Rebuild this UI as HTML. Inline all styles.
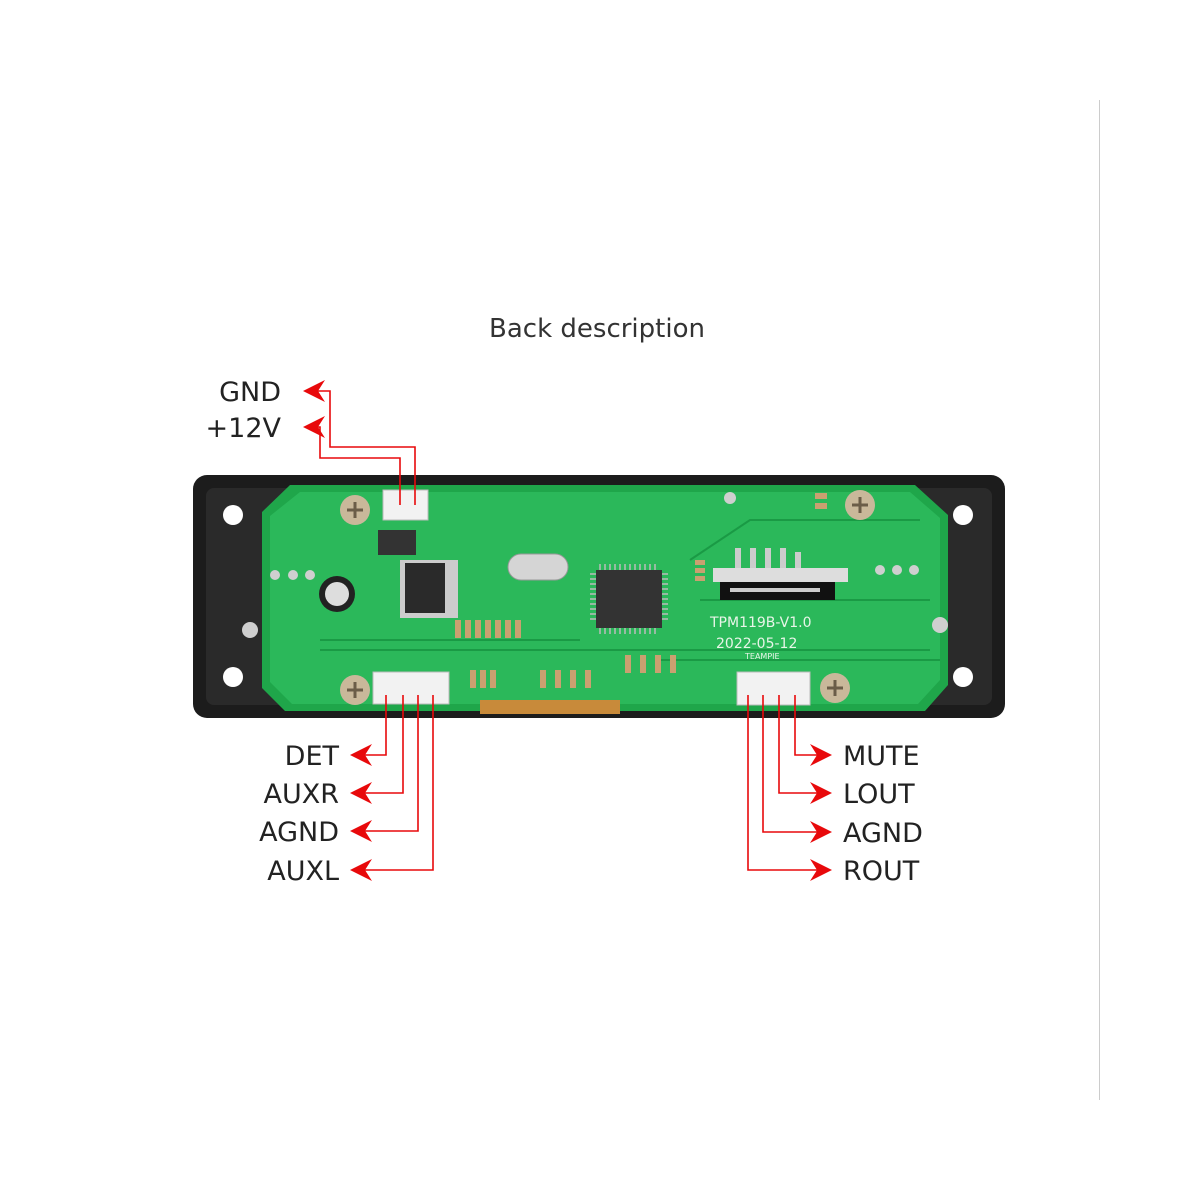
<!DOCTYPE html>
<html><head><meta charset="utf-8"><style>
html,body{margin:0;padding:0;background:#fff;width:1200px;height:1200px;overflow:hidden}
svg{display:block}
text{font-family:"DejaVu Sans","Liberation Sans",sans-serif}
</style></head><body>
<svg width="1200" height="1200" viewBox="0 0 1200 1200">
<defs>
<marker id="a" viewBox="0 0 22 22" refX="20" refY="11" markerWidth="22" markerHeight="22" markerUnits="userSpaceOnUse" orient="auto">
<path d="M22,11 L0,0 L7,11 L0,22 Z" fill="#e8090b"/></marker>
</defs>
<line x1="1099.5" y1="100" x2="1099.5" y2="1100" stroke="#ccc" stroke-width="1"/>
<text x="597" y="337" font-size="26" fill="#333" text-anchor="middle" font-family="Liberation Sans">Back description</text>

<rect x="193" y="475" width="812" height="243" rx="14" fill="#1c1c1c"/>
<rect x="206" y="488" width="786" height="217" rx="8" fill="#2a2a2a"/>
<g fill="#fff"><circle cx="233" cy="515" r="10"/><circle cx="233" cy="677" r="10"/><circle cx="963" cy="515" r="10"/><circle cx="963" cy="677" r="10"/></g>
<path d="M290,485 L915,485 L948,515 L948,685 L925,711 L285,711 L262,688 L262,512 Z" fill="#1fa64a"/>
<path d="M300,492 L910,492 L940,518 L940,680 L918,704 L292,704 L270,682 L270,516 Z" fill="#2bb85a"/>
<rect x="480" y="700" width="140" height="14" fill="#c88a3a"/>
<g stroke="#1a9a45" stroke-width="2" fill="none">
<path d="M320,650 L930,650"/><path d="M320,640 L580,640"/><path d="M690,560 L750,520 L920,520"/><path d="M700,600 L930,600"/><path d="M660,660 L940,660"/>
</g>
<rect x="596" y="570" width="66" height="58" fill="#333"/>
<g stroke="#bbb" stroke-width="1.5">
<path d="M600,564 v6 M605,564 v6 M610,564 v6 M615,564 v6 M620,564 v6 M625,564 v6 M630,564 v6 M635,564 v6 M640,564 v6 M645,564 v6 M650,564 v6 M655,564 v6"/>
<path d="M600,628 v6 M605,628 v6 M610,628 v6 M615,628 v6 M620,628 v6 M625,628 v6 M630,628 v6 M635,628 v6 M640,628 v6 M645,628 v6 M650,628 v6 M655,628 v6"/>
<path d="M590,574 h6 M590,579 h6 M590,584 h6 M590,589 h6 M590,594 h6 M590,599 h6 M590,604 h6 M590,609 h6 M590,614 h6 M590,619 h6"/>
<path d="M662,574 h6 M662,579 h6 M662,584 h6 M662,589 h6 M662,594 h6 M662,599 h6 M662,604 h6 M662,609 h6 M662,614 h6 M662,619 h6"/>
</g>
<rect x="508" y="554" width="60" height="26" rx="13" fill="#d5d5d5" stroke="#999"/>
<rect x="400" y="560" width="58" height="58" fill="#ccc"/>
<rect x="405" y="563" width="40" height="50" fill="#2a2a2a"/>
<rect x="378" y="530" width="38" height="25" fill="#333"/>
<circle cx="337" cy="594" r="18" fill="#222"/><circle cx="337" cy="594" r="12" fill="#ddd"/>
<rect x="713" y="568" width="135" height="14" fill="#ddd"/>
<rect x="720" y="582" width="115" height="18" fill="#111"/>
<rect x="730" y="588" width="90" height="4" fill="#ccc"/>
<g fill="#ccc"><rect x="735" y="548" width="6" height="20"/><rect x="750" y="548" width="6" height="20"/><rect x="765" y="548" width="6" height="20"/><rect x="780" y="548" width="6" height="20"/><rect x="795" y="552" width="6" height="16"/></g>
<g fill="#e8f5e8" font-family="Liberation Mono" font-size="14">
<text x="710" y="627">TPM119B-V1.0</text><text x="716" y="648">2022-05-12</text></g>
<text x="745" y="659" font-size="8" fill="#e8f5e8">TEAMPIE</text>
<g fill="#caa070">
<rect x="455" y="620" width="6" height="18"/><rect x="465" y="620" width="6" height="18"/><rect x="475" y="620" width="6" height="18"/><rect x="485" y="620" width="6" height="18"/><rect x="495" y="620" width="6" height="18"/><rect x="505" y="620" width="6" height="18"/><rect x="515" y="620" width="6" height="18"/>
<rect x="470" y="670" width="6" height="18"/><rect x="480" y="670" width="6" height="18"/><rect x="490" y="670" width="6" height="18"/><rect x="540" y="670" width="6" height="18"/><rect x="555" y="670" width="6" height="18"/><rect x="570" y="670" width="6" height="18"/><rect x="585" y="670" width="6" height="18"/>
<rect x="625" y="655" width="6" height="18"/><rect x="640" y="655" width="6" height="18"/><rect x="655" y="655" width="6" height="18"/><rect x="670" y="655" width="6" height="18"/>
<rect x="695" y="560" width="10" height="5"/><rect x="695" y="568" width="10" height="5"/><rect x="695" y="576" width="10" height="5"/>
<rect x="815" y="493" width="12" height="6"/><rect x="815" y="503" width="12" height="6"/>
</g>
<g fill="#cfcfcf">
<circle cx="275" cy="575" r="5"/><circle cx="293" cy="575" r="5"/><circle cx="310" cy="575" r="5"/>
<circle cx="880" cy="570" r="5"/><circle cx="897" cy="570" r="5"/><circle cx="914" cy="570" r="5"/>
<circle cx="250" cy="630" r="8"/><circle cx="940" cy="625" r="8"/><circle cx="730" cy="498" r="6"/>
</g>
<g><circle cx="355" cy="510" r="15" fill="#c9b89a"/><circle cx="860" cy="505" r="15" fill="#c9b89a"/><circle cx="355" cy="690" r="15" fill="#c9b89a"/><circle cx="835" cy="688" r="15" fill="#c9b89a"/></g>
<g stroke="#6b5d48" stroke-width="3"><path d="M347,510h16M355,502v16M852,505h16M860,497v16M347,690h16M355,682v16M827,688h16M835,680v16"/></g>
<rect x="383" y="490" width="45" height="30" fill="#f2f2f2" stroke="#bbb"/>
<rect x="373" y="672" width="76" height="32" fill="#f2f2f2" stroke="#bbb"/>
<rect x="737" y="672" width="73" height="33" fill="#f2f2f2" stroke="#bbb"/>

<g stroke="#e8090b" stroke-width="1.6" fill="none">
<path d="M415,505 V447 H330 V391 H305" marker-end="url(#a)"/>
<path d="M400,505 V458 H320 V427 H305" marker-end="url(#a)"/>
<path d="M386,695 V755 H352" marker-end="url(#a)"/>
<path d="M403,695 V793 H352" marker-end="url(#a)"/>
<path d="M418,695 V831 H352" marker-end="url(#a)"/>
<path d="M433,695 V870 H352" marker-end="url(#a)"/>
<path d="M795,695 V755 H830" marker-end="url(#a)"/>
<path d="M779,695 V793 H830" marker-end="url(#a)"/>
<path d="M763,695 V832 H830" marker-end="url(#a)"/>
<path d="M748,695 V870 H830" marker-end="url(#a)"/>
</g>
<g font-size="27" fill="#222">
<text x="281" y="401" text-anchor="end">GND</text>
<text x="281" y="437" text-anchor="end">+12V</text>
<text x="339" y="765" text-anchor="end">DET</text>
<text x="339" y="803" text-anchor="end">AUXR</text>
<text x="339" y="841" text-anchor="end">AGND</text>
<text x="339" y="880" text-anchor="end">AUXL</text>
<text x="843" y="765">MUTE</text>
<text x="843" y="803">LOUT</text>
<text x="843" y="842">AGND</text>
<text x="843" y="880">ROUT</text>
</g>
</svg>
</body></html>
